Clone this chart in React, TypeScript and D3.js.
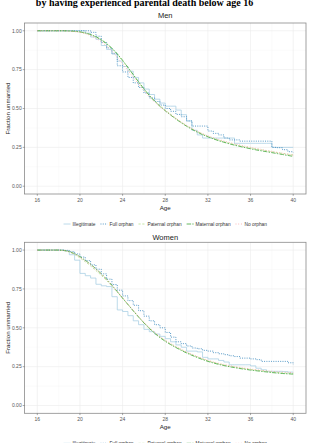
import React from "react";
import { select, scaleLinear, line, curveStepAfter, curveLinear } from "d3";

// ages at half-year steps, shared x grid for all curves
const ages = [
  16, 16.5, 17, 17.5, 18, 18.5, 19, 19.5, 20, 20.5, 21, 21.5, 22, 22.5, 23, 23.5,
  24, 24.5, 25, 25.5, 26, 26.5, 27, 27.5, 28, 28.5, 29, 29.5, 30, 30.5, 31, 31.5,
  32, 32.5, 33, 33.5, 34, 34.5, 35, 35.5, 36, 36.5, 37, 37.5, 38, 38.5, 39, 39.5, 40,
];

const groups = ["Illegitimate", "Full orphan", "Paternal orphan", "Maternal orphan", "No orphan"];
const groupColors = ["#A6CEE3", "#1F78B4", "#B2DF8A", "#33A02C", "#FB9A99"];
const groupDashes = ["", "1,1.3", "2.2,1.6", "4.5,1.2,1.5,1.2", "0.9,1.8"];

const xTicks = [16, 20, 24, 28, 32, 36, 40];
const xMinor = [18, 22, 26, 30, 34, 38];
const yTicks = [0, 0.25, 0.5, 0.75, 1];
const yTickLabels = ["0.00", "0.25", "0.50", "0.75", "1.00"];
const yMinor = [0.125, 0.375, 0.625, 0.875];

// Men
const menIllegitimate = [
  1, 1, 1, 1, 1, 1, 1, 1, 1, 0.985, 0.96, 0.945, 0.905, 0.88, 0.85, 0.805,
  0.77, 0.74, 0.7, 0.665, 0.625, 0.59, 0.56, 0.535, 0.515, 0.515, 0.49, 0.46, 0.42, 0.36, 0.33, 0.31,
  0.31, 0.31, 0.31, 0.31, 0.31, 0.276, 0.276, 0.276, 0.276, 0.276, 0.276, 0.276, 0.25, 0.25, 0.25, 0.25, 0.25,
];
const menFull = [
  1, 1, 1, 1, 1, 1, 1, 1, 1, 1, 0.99, 0.965, 0.925, 0.89, 0.855, 0.775,
  0.735, 0.7, 0.665, 0.635, 0.6, 0.568, 0.545, 0.522, 0.5, 0.482, 0.462, 0.447, 0.42, 0.387, 0.387, 0.387,
  0.355, 0.34, 0.33, 0.31, 0.298, 0.298, 0.29, 0.29, 0.29, 0.29, 0.29, 0.29, 0.25, 0.248, 0.235, 0.222, 0.218,
];
const menPaternal = [
  1, 1, 1, 1, 1, 1, 0.998, 0.996, 0.992, 0.985, 0.975, 0.96, 0.94, 0.915, 0.885, 0.848,
  0.806, 0.762, 0.716, 0.67, 0.627, 0.586, 0.55, 0.518, 0.49, 0.463, 0.437, 0.412, 0.39, 0.37, 0.352, 0.336,
  0.321, 0.308, 0.296, 0.286, 0.277, 0.268, 0.26, 0.253, 0.246, 0.24, 0.234, 0.228, 0.222, 0.216, 0.211, 0.206, 0.201,
];
const menMaternal = [
  1, 1, 1, 1, 1, 1, 0.999, 0.997, 0.993, 0.986, 0.976, 0.962, 0.943, 0.918, 0.888, 0.852,
  0.81, 0.765, 0.718, 0.671, 0.626, 0.584, 0.547, 0.514, 0.485, 0.458, 0.432, 0.408, 0.386, 0.366, 0.348, 0.332,
  0.318, 0.305, 0.293, 0.283, 0.273, 0.264, 0.256, 0.248, 0.241, 0.234, 0.228, 0.222, 0.216, 0.21, 0.204, 0.198, 0.192,
];
const menNoOrphan = [
  1, 1, 1, 1, 1, 1, 0.998, 0.995, 0.99, 0.982, 0.97, 0.952, 0.93, 0.902, 0.868, 0.828,
  0.787, 0.745, 0.7, 0.656, 0.615, 0.576, 0.542, 0.512, 0.486, 0.461, 0.436, 0.412, 0.391, 0.371, 0.353, 0.338,
  0.324, 0.312, 0.301, 0.291, 0.282, 0.273, 0.265, 0.257, 0.25, 0.243, 0.237, 0.23, 0.224, 0.218, 0.212, 0.206, 0.2,
];

// Women
const womenIllegitimate = [
  1, 1, 1, 1, 1, 0.995, 0.97, 0.935, 0.85, 0.835, 0.82, 0.78, 0.77, 0.765, 0.7, 0.615,
  0.605, 0.578, 0.545, 0.52, 0.49, 0.475, 0.46, 0.445, 0.43, 0.41, 0.39, 0.375, 0.35, 0.35, 0.345, 0.31,
  0.3, 0.3, 0.29, 0.28, 0.262, 0.262, 0.262, 0.262, 0.255, 0.24, 0.23, 0.22, 0.22, 0.22, 0.218, 0.215, 0.215,
];
const womenFull = [
  1, 1, 1, 1, 1, 0.998, 0.99, 0.975, 0.955, 0.932, 0.905, 0.877, 0.847, 0.813, 0.778, 0.742,
  0.705, 0.675, 0.645, 0.61, 0.575, 0.545, 0.52, 0.5, 0.47, 0.44, 0.41, 0.398, 0.383, 0.37, 0.365, 0.355,
  0.35, 0.34, 0.333, 0.327, 0.32, 0.315, 0.305, 0.305, 0.3, 0.295, 0.284, 0.284, 0.284, 0.284, 0.284, 0.275, 0.263,
];
const womenPaternal = [
  1, 1, 1, 1, 1, 0.997, 0.988, 0.972, 0.95, 0.925, 0.898, 0.868, 0.838, 0.804, 0.768, 0.73,
  0.69, 0.65, 0.61, 0.571, 0.533, 0.499, 0.468, 0.441, 0.417, 0.396, 0.377, 0.359, 0.342, 0.327, 0.313, 0.3,
  0.288, 0.278, 0.269, 0.261, 0.254, 0.248, 0.242, 0.237, 0.232, 0.228, 0.224, 0.22, 0.216, 0.213, 0.21, 0.208, 0.206,
];
const womenMaternal = [
  1, 1, 1, 1, 1, 0.998, 0.991, 0.977, 0.958, 0.934, 0.909, 0.879, 0.848, 0.813, 0.774, 0.733,
  0.691, 0.65, 0.609, 0.569, 0.531, 0.496, 0.465, 0.437, 0.413, 0.392, 0.373, 0.355, 0.338, 0.323, 0.309, 0.296,
  0.284, 0.274, 0.265, 0.257, 0.25, 0.244, 0.238, 0.233, 0.228, 0.224, 0.22, 0.216, 0.212, 0.209, 0.206, 0.204, 0.202,
];
const womenNoOrphan = [
  1, 1, 1, 1, 1, 0.998, 0.99, 0.975, 0.955, 0.93, 0.905, 0.875, 0.845, 0.81, 0.772, 0.732,
  0.692, 0.652, 0.612, 0.573, 0.536, 0.502, 0.471, 0.444, 0.42, 0.399, 0.38, 0.362, 0.345, 0.33, 0.316, 0.303,
  0.291, 0.281, 0.272, 0.264, 0.257, 0.251, 0.245, 0.24, 0.235, 0.231, 0.227, 0.223, 0.22, 0.217, 0.215, 0.213, 0.212,
];

const panels = [
  { title: "Men", top: 23, titleY: 15.8, series: [menIllegitimate, menFull, menPaternal, menMaternal, menNoOrphan] },
  { title: "Women", top: 242.3, titleY: 237.2, series: [womenIllegitimate, womenFull, womenPaternal, womenMaternal, womenNoOrphan] },
];

const SANS = "'Liberation Sans', Arial, sans-serif";

export default function App() {
  const svgRef = React.useRef<SVGSVGElement>(null);

  React.useEffect(() => {
    const svg = select(svgRef.current);
    svg.selectAll("*").remove();

    const left = 24.5;
    const right = 306;
    const panelH = 171;

    svg
      .append("text")
      .attr("x", 144.5)
      .attr("y", 5.5)
      .attr("text-anchor", "middle")
      .attr("font-family", "'Liberation Serif', 'Times New Roman', serif")
      .attr("font-weight", "bold")
      .attr("font-size", 10)
      .attr("fill", "#000")
      .text("by having experienced parental death below age 16");

    const x = scaleLinear().domain([14.8, 41.2]).range([left, right]);

    panels.forEach((p) => {
      const top = p.top;
      const bottom = top + panelH;
      const y = scaleLinear().domain([-0.05, 1.05]).range([bottom, top]);
      const g = svg.append("g");

      // panel background + grid
      g.append("rect")
        .attr("x", left)
        .attr("y", top)
        .attr("width", right - left)
        .attr("height", panelH)
        .attr("fill", "#fff");

      g.selectAll(".xminor")
        .data(xMinor)
        .join("line")
        .attr("x1", (d) => x(d))
        .attr("x2", (d) => x(d))
        .attr("y1", top)
        .attr("y2", bottom)
        .attr("stroke", "#F4F4F4")
        .attr("stroke-width", 0.4);
      g.selectAll(".yminor")
        .data(yMinor)
        .join("line")
        .attr("x1", left)
        .attr("x2", right)
        .attr("y1", (d) => y(d))
        .attr("y2", (d) => y(d))
        .attr("stroke", "#F4F4F4")
        .attr("stroke-width", 0.4);
      g.selectAll(".xmajor")
        .data(xTicks)
        .join("line")
        .attr("x1", (d) => x(d))
        .attr("x2", (d) => x(d))
        .attr("y1", top)
        .attr("y2", bottom)
        .attr("stroke", "#EBEBEB")
        .attr("stroke-width", 0.6);
      g.selectAll(".ymajor")
        .data(yTicks)
        .join("line")
        .attr("x1", left)
        .attr("x2", right)
        .attr("y1", (d) => y(d))
        .attr("y2", (d) => y(d))
        .attr("stroke", "#EBEBEB")
        .attr("stroke-width", 0.6);

      // curves
      p.series.forEach((vals, i) => {
        const pts = ages.map((a, j) => [a, vals[j]] as [number, number]);
        const gen = line<[number, number]>()
          .x((d) => x(d[0]))
          .y((d) => y(d[1]))
          .curve(i < 2 ? curveStepAfter : curveLinear);
        g.append("path")
          .attr("d", gen(pts))
          .attr("fill", "none")
          .attr("stroke", groupColors[i])
          .attr("stroke-width", 0.75)
          .attr("stroke-dasharray", groupDashes[i] || null);
      });

      // border
      g.append("rect")
        .attr("x", left)
        .attr("y", top)
        .attr("width", right - left)
        .attr("height", panelH)
        .attr("fill", "none")
        .attr("stroke", "#8A8A8A")
        .attr("stroke-width", 0.8);

      // y axis
      g.selectAll(".ytick")
        .data(yTicks)
        .join("line")
        .attr("x1", left - 1.8)
        .attr("x2", left)
        .attr("y1", (d) => y(d))
        .attr("y2", (d) => y(d))
        .attr("stroke", "#555")
        .attr("stroke-width", 0.5);
      g.selectAll(".ylab")
        .data(yTicks)
        .join("text")
        .attr("x", left - 2.8)
        .attr("y", (d) => y(d))
        .attr("dy", "0.35em")
        .attr("text-anchor", "end")
        .attr("font-family", SANS)
        .attr("font-size", 5)
        .attr("fill", "#555")
        .text((d, i) => yTickLabels[i]);

      // x axis
      g.selectAll(".xtick")
        .data(xTicks)
        .join("line")
        .attr("x1", (d) => x(d))
        .attr("x2", (d) => x(d))
        .attr("y1", bottom)
        .attr("y2", bottom + 1.8)
        .attr("stroke", "#555")
        .attr("stroke-width", 0.5);
      g.selectAll(".xlab")
        .data(xTicks)
        .join("text")
        .attr("x", (d) => x(d))
        .attr("y", bottom + 6.3)
        .attr("dy", "0.35em")
        .attr("text-anchor", "middle")
        .attr("font-family", SANS)
        .attr("font-size", 5)
        .attr("fill", "#555")
        .text((d) => String(d));

      // titles
      const cx = (left + right) / 2;
      g.append("text")
        .attr("x", cx)
        .attr("y", p.titleY)
        .attr("dy", "0.35em")
        .attr("text-anchor", "middle")
        .attr("font-family", SANS)
        .attr("font-size", 7.5)
        .attr("fill", "#222")
        .text(p.title);
      g.append("text")
        .attr("x", cx)
        .attr("y", top + 184.5)
        .attr("dy", "0.35em")
        .attr("text-anchor", "middle")
        .attr("font-family", SANS)
        .attr("font-size", 6.2)
        .attr("fill", "#222")
        .text("Age");
      g.append("text")
        .attr("transform", `translate(8,${(top + bottom) / 2}) rotate(-90)`)
        .attr("dy", "0.35em")
        .attr("text-anchor", "middle")
        .attr("font-family", SANS)
        .attr("font-size", 6.2)
        .attr("fill", "#222")
        .text("Fraction unmarried");

      // legend
      const ly = top + 201;
      const leg = g.append("g");
      let cur = 0;
      groups.forEach((name, i) => {
        const item = leg.append("g").attr("transform", `translate(${cur},0)`);
        item
          .append("line")
          .attr("x1", 0)
          .attr("x2", 7)
          .attr("y1", ly)
          .attr("y2", ly)
          .attr("stroke", groupColors[i])
          .attr("stroke-width", 0.75)
          .attr("stroke-dasharray", groupDashes[i] || null);
        const t = item
          .append("text")
          .attr("x", 9)
          .attr("y", ly)
          .attr("dy", "0.35em")
          .attr("font-family", SANS)
          .attr("font-size", 4.8)
          .attr("fill", "#333")
          .text(name);
        const w = (t.node() as SVGTextElement).getComputedTextLength();
        cur += 9 + w + 5;
      });
      const total = cur - 5;
      leg.attr("transform", `translate(${cx - total / 2},0)`);
    });

    return () => {
      svg.selectAll("*").remove();
    };
  }, []);

  return (
    <svg
      ref={svgRef}
      width={312}
      height={443}
      style={{ position: "absolute", left: 0, top: 0, background: "#fff" }}
    />
  );
}
